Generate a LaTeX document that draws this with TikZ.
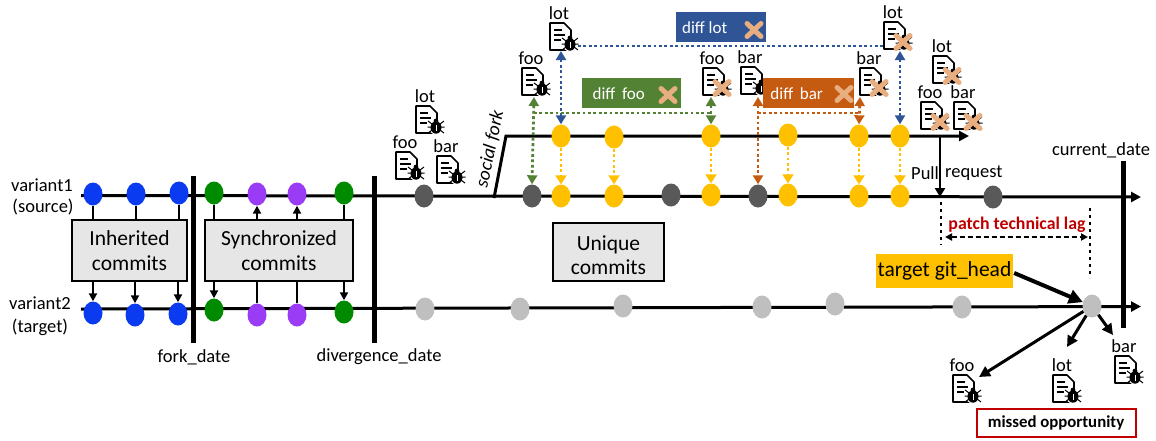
\documentclass[tikz,border=0pt]{standalone}
\usepackage{fontspec}
\setmainfont{Carlito}
\usetikzlibrary{arrows.meta,shapes.geometric,calc}
\definecolor{cblue}{HTML}{0B3BF0}
\definecolor{cgreen}{HTML}{008A00}
\definecolor{cpurple}{HTML}{9A3CF5}
\definecolor{cyellow}{HTML}{FFC000}
\definecolor{cdark}{HTML}{595959}
\definecolor{clight}{HTML}{BFBFBF}
\definecolor{dblue}{HTML}{2F5597}
\definecolor{dgreen}{HTML}{548235}
\definecolor{dorange}{HTML}{C55A11}
\definecolor{peach}{HTML}{E9AE80}
\definecolor{cred}{HTML}{C00000}
\definecolor{boxgray}{HTML}{E7E6E6}
\newcommand{\fs}[1]{\fontsize{#1}{#1}\selectfont}
\tikzset{
  commit/.style={ellipse,minimum width=19,minimum height=23,inner sep=0,draw=none},
  tline/.style={line width=3,-{Triangle[length=10,width=10]}},
  forkbar/.style={line width=5},
  graybox/.style={draw=black,line width=2,fill=boxgray,align=center,inner sep=0,font=\fs{21.5}},
  lbl/.style={font=\fs{18.5},inner sep=0,align=center},
  link/.style={line width=2},
  linka/.style={line width=2,-{Triangle[length=8,width=8]}},
  dot/.style={line width=2.8,dash pattern=on 2.8 off 2.6},
  dota/.style={dot,{Triangle[length=9,width=10]}-{Triangle[length=9,width=10]}},
  yarr/.style={line width=2.8,dash pattern=on 2.8 off 2.6,cyellow,-{Triangle[length=9,width=11]}},
  diffbox/.style={inner sep=0,minimum height=30,text=white,font=\fs{17},anchor=north west},
  blackarr/.style={line width=3,-{Triangle[length=11,width=11]}},
}
\newcommand{\crossat}[2]{%
  \draw[peach,line width=5,line cap=round] (#1-7,#2-6.5) -- (#1+7,#2+6.5) (#1-7,#2+6.5) -- (#1+7,#2-6.5);}
% name, x, y, label, state (0 bug, 1 crossed)
\newcommand{\docicon}[5]{%
  \coordinate (#1) at (#2,#3);
  \draw[line width=1.6,line join=round,fill=white] (#2,#3) -- (#2+14,#3) -- (#2+21,#3+7) -- (#2+21,#3+27) -- (#2,#3+27) -- cycle;
  \draw[line width=1.4] (#2+4,#3+7) -- (#2+12,#3+7) (#2+4,#3+12) -- (#2+15,#3+12) (#2+4,#3+17) -- (#2+11,#3+17);
  \fill[white] (#2+20,#3+21) circle (7.5);
  \draw[line width=1] (#2+12,#3+15) -- (#2+28,#3+27) (#2+12,#3+27) -- (#2+28,#3+15) (#2+11.5,#3+21) -- (#2+28.5,#3+21);
  \fill[black] (#2+20,#3+21.5) ellipse (5.5 and 6.2);
  \fill[black] (#2+20,#3+15) circle (2.4);
  \fill[white] (#2+19.5,#3+19) rectangle (#2+20.5,#3+24.5);
  \ifnum#5=1 \crossat{#2+19}{#3+20}\fi
  \node[lbl] (#1-l) at (#2+9,#3-10) {#4};}
\begin{document}
\begin{tikzpicture}[x=1pt,y=-1pt]
\useasboundingbox (0,0) rectangle (1156,440);
\coordinate (s1) at (81,195.5); \coordinate (e1) at (1141,197);
\coordinate (s2) at (81,309); \coordinate (e2) at (1141,306.5);
\coordinate (sf0) at (494,198); \coordinate (sf1) at (506,136); \coordinate (sf2) at (969,136);
\draw[tline] (s1) -- (e1);
\draw[tline] (s2) -- (e2);
\draw[line width=3,-{Triangle[length=10,width=10]}] (sf0) -- (sf1) -- (sf2);
\coordinate (fa) at (193,176); \coordinate (fb) at (193,343);
\coordinate (da) at (374,176); \coordinate (db) at (374,343);
\coordinate (ca) at (1123,161); \coordinate (cb) at (1123,328);
\draw[forkbar] (fa) -- (fb);
\draw[forkbar] (da) -- (db);
\draw[forkbar] (ca) -- (cb);
\node[graybox,minimum width=115,minimum height=61] (inh) at (129.5,250.5) {Inherited\\[3pt]commits};
\node[graybox,minimum width=148,minimum height=61] (syn) at (279,250.5) {Synchronized\\[3pt]commits};
\node[graybox,minimum width=111,minimum height=58] (uni) at (608.5,252) {\rule{0pt}{21pt}Unique\\[3pt]commits};
\foreach \n/\x/\y/\c in {t1/93/194/cblue,t2/136/194/cblue,t3/179/193/cblue,
  b1/93/313/cblue,b2/135/315/cblue,b3/178/314/cblue,
  t4/214/193/cgreen,t5/257/194/cpurple,t6/297/194/cpurple,t7/344/193/cgreen,
  b4/214/310/cgreen,b5/257/315/cpurple,b6/297/315/cpurple,b7/344/312/cgreen,
  d0/424/196/cdark,d1/532/196/cdark,
  u1/561/136/cyellow,u2/614/137/cyellow,u3/711/136/cyellow,u4/788/135/cyellow,u5/859/136/cyellow,u6/900/136/cyellow,
  l1/561/196/cyellow,l2/614/196/cyellow,d2/671/195/cdark,l3/711/195/cyellow,d3/758/196/cdark,l4/788/195/cyellow,l5/859/196/cyellow,l6/900/196/cyellow,d4/993/197/cdark,
  g1/425/309/clight,g2/520/309/clight,g3/623/306/clight,g4/762/307/clight,g5/835/304/clight,g6/962/307/clight,g7/1092/306/clight}
  {\node[commit,fill=\c] (\n) at (\x,\y) {};}
\draw[link] (t1) -- (t1 |- inh.north);
\draw[link] (t2) -- (t2 |- inh.north);
\draw[link] (t3) -- (t3 |- inh.north);
\draw[linka] (b1 |- inh.south) -- (b1);
\draw[linka] (b2 |- inh.south) -- (b2);
\draw[linka] (b3 |- inh.south) -- (b3);
\draw[link] (t4) -- (t4 |- syn.north);
\draw[linka] (t5 |- syn.north) -- (t5);
\draw[linka] (t6 |- syn.north) -- (t6);
\draw[link] (t7) -- (t7 |- syn.north);
\draw[linka] (b4 |- syn.south) -- (b4);
\draw[link] (b5 |- syn.south) -- (b5);
\draw[link] (b6 |- syn.south) -- (b6);
\draw[linka] (b7 |- syn.south) -- (b7);
\docicon{ilot0}{416}{106}{lot}{0}
\docicon{ifoo0}{396}{152}{foo}{0}
\docicon{ibar0}{437}{156}{bar}{0}
\docicon{ilot1}{550}{23}{lot}{0}
\docicon{ifoo1}{522}{68}{foo}{0}
\docicon{ifoo2}{703}{68}{foo}{1}
\docicon{ibar1}{741}{67}{bar}{0}
\docicon{ilot2}{884}{22}{lot}{1}
\docicon{ibar2}{860}{68}{bar}{1}
\docicon{ilot3}{933}{56}{lot}{1}
\docicon{ifoo3}{921}{102}{foo}{1}
\docicon{ibar3}{954}{102}{bar}{1}
\docicon{ibar4}{1115}{356}{bar}{0}
\docicon{ilot4}{1053}{375}{lot}{0}
\docicon{ifoo4}{953}{375}{foo}{0}
\node[diffbox,fill=dblue,minimum width=90] (dl) at (676,12) {\hspace{-33pt}diff lot};
\crossat{754}{30}
\node[diffbox,fill=dgreen,minimum width=99] (df) at (582,78) {\hspace{-26pt}diff\, foo};
\crossat{668}{95}
\node[diffbox,fill=dorange,minimum width=91] (db2) at (763,78) {\hspace{-24pt}diff\, bar};
\crossat{844}{94}
% dotted links end just clear of the icons
\coordinate (bh1) at (578,46); \coordinate (bh2) at (884,46);
\coordinate (bv1) at (561,51); \coordinate (bv2) at (900,51);
\draw[dot,dblue] (bh1) -- (bh2);
\draw[dota,dblue] (bv1) -- (u1.north);
\draw[dota,dblue] (bv2) -- (u6.north);
\coordinate (gh1) at (534,113); \coordinate (gh2) at (711,113);
\coordinate (gv1) at (534,97); \coordinate (gv2) at (711,97);
\draw[dot,dgreen] (gh1) -- (gh2);
\draw[dota,dgreen] (gv1) -- (d1.north);
\draw[dota,dgreen] (gv2) -- (u3.north);
\coordinate (oh1) at (758,113); \coordinate (oh2) at (860,113);
\coordinate (ov1) at (758,97); \coordinate (ov2) at (860,97);
\draw[dot,dorange] (oh1) -- (oh2);
\draw[dota,dorange] (ov1) -- (d3.north);
\draw[dota,dorange] (ov2) -- (u5.north);
\draw[yarr] (u1) -- (l1);
\draw[yarr] (u2) -- (l2);
\draw[yarr] (u3) -- (l3);
\draw[yarr] (u4) -- (l4);
\draw[yarr] (u5) -- (l5);
\draw[yarr] (u6) -- (l6);
\coordinate (pa) at (940,136); \coordinate (pb) at (940,197);
\draw[line width=2.5,-{Triangle[length=9,width=10]}] (pa) -- (pb);
\node[lbl,anchor=west] (pull) at (911,173) {Pull};
\node[lbl,anchor=west] (req) at (945,173) {request};
\coordinate (la) at (941,202); \coordinate (lb) at (941,245);
\coordinate (lc) at (1090,208); \coordinate (ld) at (1090,278);
\draw[line width=2.8,dash pattern=on 3 off 4] (la) -- (lb);
\draw[line width=2.8,dash pattern=on 3 off 4] (lc) -- (ld);
\coordinate (le) at (945,237); \coordinate (lf) at (1088,237);
\draw[line width=2,dash pattern=on 5 off 3,{Triangle[length=7,width=7]}-{Triangle[length=7,width=7]}] (le) -- (lf);
\node[inner sep=0,font=\fs{17.8}\bfseries,text=cred] (ptl) at (1017,225) {patch technical lag};
\node[fill=cyellow,inner sep=0,minimum width=137,minimum height=34,font=\fs{21.5}] (head) at (944.5,271) {target git\_head};
\draw[line width=4,-{Triangle[length=14,width=14]}] (head.east) ++(1,2) coordinate (h0) -- (g7);
\coordinate (tf) at (979,377); \coordinate (tl) at (1067,347); \coordinate (tb) at (1113,335);
\draw[blackarr] (g7) -- (tf);
\draw[blackarr] (g7) -- (tl);
\draw[blackarr] (g7) -- (tb);
\node[draw=cred,line width=2,fill=white,inner sep=0,minimum width=159,minimum height=28,font=\fs{16.8}\bfseries] (mo) at (1056,423) {missed opportunity};
\node[lbl] (v1) at (42,185) {variant1}; \node[lbl] (v1b) at (43,207) {(source)};
\node[lbl] (v2) at (40,303) {variant2}; \node[lbl] (v2b) at (40,327) {(target)};
\node[lbl] (fd) at (194,357) {fork\_date};
\node[lbl] (dvd) at (379,357) {divergence\_date};
\node[lbl] (cd) at (1101,150) {current\_date};
\node[lbl,rotate=78,font=\fs{19}\itshape] (sfk) at (490,149) {social fork};
\end{tikzpicture}
\end{document}
